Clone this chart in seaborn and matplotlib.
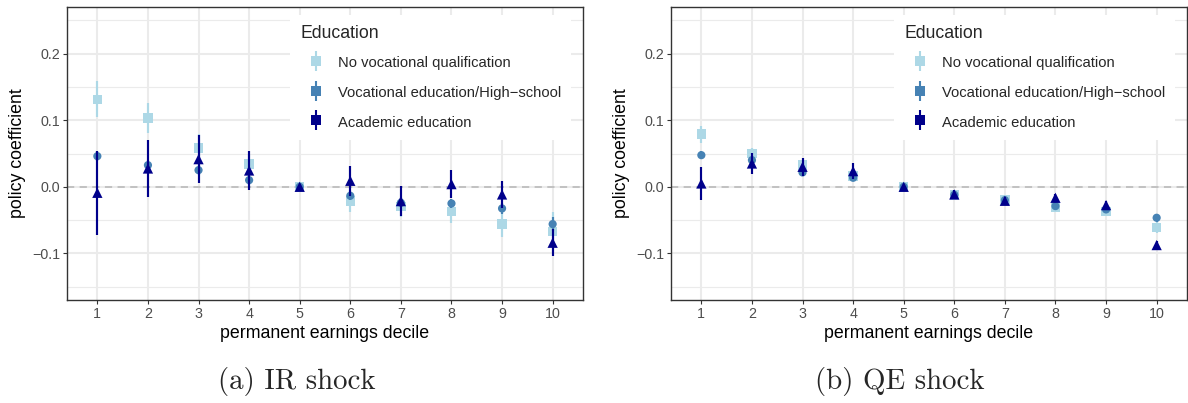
import numpy as np
import pandas as pd
import seaborn as sns
import matplotlib
matplotlib.use("Agg")
import matplotlib.pyplot as plt
from matplotlib.lines import Line2D
from matplotlib.legend_handler import HandlerTuple

deciles = list(range(1, 11))
groups = ["No vocational qualification", "Vocational education/High\u2212school", "Academic education"]
colors = ["#ADD8E6", "#4682B4", "#00008B"]
markers = ["s", "o", "^"]
msizes = [6.8, 5.9, 7.4]

# IR shock: point estimates and CI half-widths
ir_novoc = [0.1315, 0.1035, 0.0585, 0.0345, 0.0, -0.021, -0.030, -0.0375, -0.056, -0.0675]
ir_novoc_ci = [0.027, 0.022, 0.0215, 0.015, 0.0, 0.0165, 0.015, 0.0165, 0.019, 0.030]
ir_voc = [0.046, 0.0325, 0.025, 0.010, 0.0, -0.0135, -0.024, -0.025, -0.0325, -0.056]
ir_voc_ci = [0.008, 0.008, 0.008, 0.007, 0.0, 0.007, 0.007, 0.007, 0.008, 0.010]
ir_acad = [-0.009, 0.0275, 0.0415, 0.0245, 0.0, 0.009, -0.0215, 0.004, -0.0115, -0.084]
ir_acad_ci = [0.0635, 0.0425, 0.036, 0.029, 0.0, 0.0225, 0.0225, 0.021, 0.020, 0.0205]

# QE shock
qe_novoc = [0.079, 0.050, 0.0325, 0.016, 0.0, -0.012, -0.020, -0.031, -0.0375, -0.0615]
qe_novoc_ci = [0.0125, 0.009, 0.007, 0.006, 0.0, 0.005, 0.005, 0.006, 0.006, 0.008]
qe_voc = [0.0475, 0.040, 0.0215, 0.0135, 0.0, -0.012, -0.020, -0.029, -0.034, -0.0465]
qe_voc_ci = [0.006, 0.006, 0.006, 0.005, 0.0, 0.004, 0.004, 0.005, 0.005, 0.006]
qe_acad = [0.005, 0.035, 0.030, 0.0235, 0.0, -0.0115, -0.021, -0.0165, -0.0275, -0.0875]
qe_acad_ci = [0.0245, 0.016, 0.0135, 0.012, 0.0, 0.006, 0.006, 0.006, 0.006, 0.006]

captions = ["(a) IR shock", "(b) QE shock"]
yticks = [-0.1, 0.0, 0.1, 0.2]
ytick_labels = ["\u22120.1", "0.0", "0.1", "0.2"]
yminor = [-0.15, -0.05, 0.05, 0.15, 0.25]


def make_df(vals, cis):
    rows = []
    for g, v, c in zip(groups, vals, cis):
        for d, vv, cc in zip(deciles, v, c):
            rows.append({"decile": d, "group": g, "coef": vv, "lo": vv - cc, "hi": vv + cc})
    return pd.DataFrame(rows)


sns.set_theme(style="white")
plt.rcParams["font.family"] = ["Liberation Sans", "DejaVu Sans"]

W, H = 1188, 403
fig = plt.figure(figsize=(W / 100, H / 100), dpi=100)
ax_left_px = [67, 671]
ylab_x_px = [17.5, 621.5]
ax_w_px = 516
ax_top_px, ax_bot_px = 7, 300
ax_h_px = ax_bot_px - ax_top_px
dfs = [make_df([ir_novoc, ir_voc, ir_acad], [ir_novoc_ci, ir_voc_ci, ir_acad_ci]),
       make_df([qe_novoc, qe_voc, qe_acad], [qe_novoc_ci, qe_voc_ci, qe_acad_ci])]
cap_cx = [297, 900]

for k in range(2):
    ax = fig.add_axes([ax_left_px[k] / W, 1 - ax_bot_px / H, ax_w_px / W, ax_h_px / H])
    df = dfs[k]
    ax.set_xlim(0.4, 10.6)
    ax.set_ylim(-0.17, 0.27)
    for y in yminor:
        ax.axhline(y, color="#EBEBEB", lw=0.8, zorder=0)
    for y in yticks:
        ax.axhline(y, color="#EBEBEB", lw=1.5, zorder=0)
    for x in deciles:
        ax.axvline(x, color="#EBEBEB", lw=1.5, zorder=0)
    ax.axhline(0, color="#BEBEBE", lw=1.3, ls=(0, (4, 3)), zorder=1)
    for i, g in enumerate(groups):
        sub = df[df["group"] == g]
        ax.vlines(sub["decile"], sub["lo"], sub["hi"], color=colors[i], lw=1.55, zorder=2 + i)
        sns.scatterplot(data=sub, x="decile", y="coef", ax=ax, marker=markers[i], color=colors[i],
                        s=msizes[i] ** 2, linewidth=0, edgecolor="none", legend=False, zorder=2.5 + i)
    ax.set_xticks(deciles)
    ax.set_xticklabels([str(d) for d in deciles])
    ax.set_yticks(yticks)
    ax.set_yticklabels(ytick_labels)
    ax.tick_params(axis="both", which="major", length=3, width=0.8, color="#333333",
                   labelsize=10.3, labelcolor="#4D4D4D", pad=2)
    ax.tick_params(axis="both", bottom=True, left=True)
    for s in ax.spines.values():
        s.set_color("#333333")
        s.set_linewidth(1.0)
    ax.set_xlabel("permanent earnings decile", fontsize=12.8, color="black")
    ax.set_ylabel("policy coefficient", fontsize=12.8, color="black")
    ax.xaxis.set_label_coords(0.5, (ax_bot_px - 333) / ax_h_px)
    ax.xaxis.label.set_va("center")
    ax.yaxis.set_label_coords((ylab_x_px[k] - ax_left_px[k]) / ax_w_px, 0.5)
    ax.yaxis.label.set_va("center")

    handles = []
    for i in range(3):
        vline = Line2D([], [], marker="|", ms=14.5, mew=1.5, ls="none", color=colors[i])
        pt = Line2D([], [], marker="s", ms=6.8, ls="none", color=colors[i], mew=0)
        handles.append((vline, pt))
    leg = ax.legend(handles, groups, title="Education", loc="upper left",
                    bbox_to_anchor=(223 / ax_w_px, 1 - 8 / ax_h_px),
                    handler_map={tuple: HandlerTuple(ndivide=1, pad=0)},
                    frameon=True, fontsize=10.6, title_fontsize=12.7, handlelength=2.1,
                    handleheight=1.2, handletextpad=0.45, labelspacing=0.96, borderpad=0.7,
                    borderaxespad=0)
    leg._legend_box.align = "left"
    leg._legend_box.sep = 9
    leg.get_frame().set_facecolor("white")
    leg.get_frame().set_edgecolor("none")
    leg.get_frame().set_alpha(1)
    leg.get_frame().set_boxstyle("square", pad=0)
    leg.set_zorder(10)

    fig.text(cap_cx[k] / W, 1 - 382 / H, captions[k], ha="center", va="center",
             fontsize=20.8, family=["cmr10", "DejaVu Serif"])

fig.savefig("out.png", dpi=100)
